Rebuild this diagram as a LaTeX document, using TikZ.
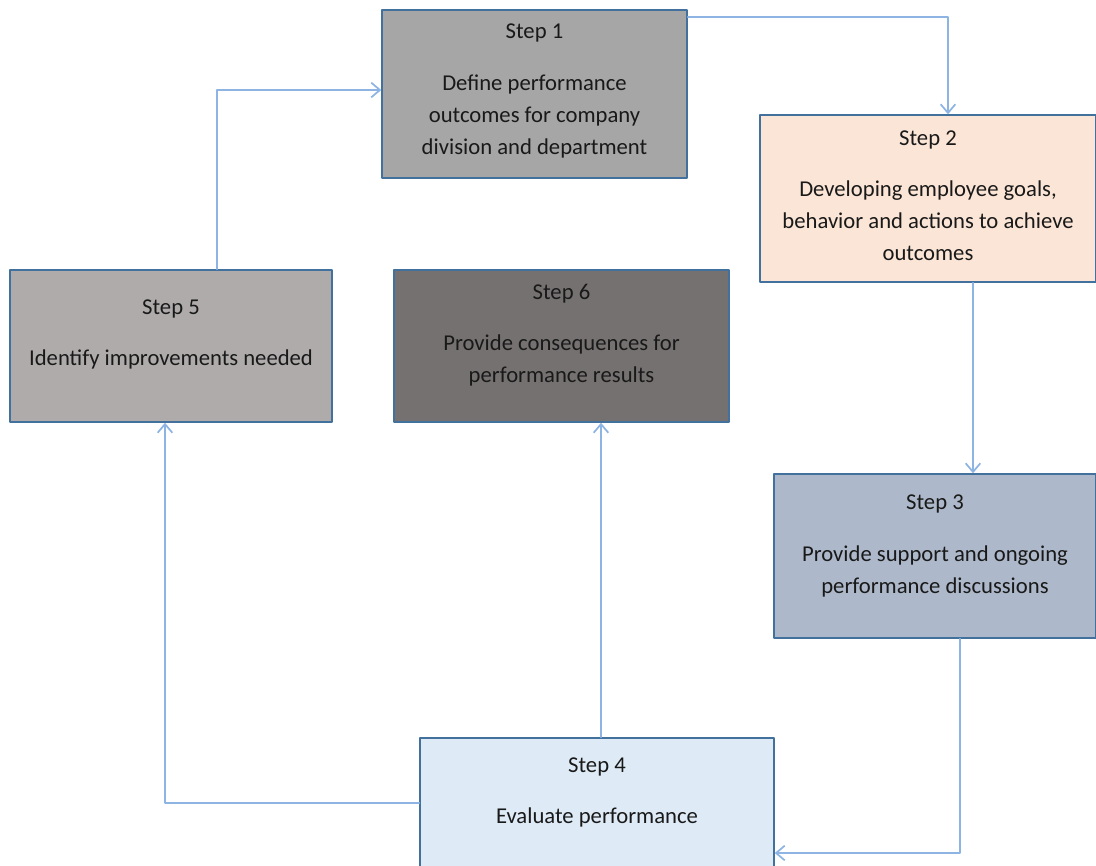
\documentclass[tikz,border=0pt]{standalone}
\usepackage{fontspec}
\setmainfont{Carlito}
\usetikzlibrary{arrows.meta}
\definecolor{boxline}{HTML}{41719C}
\definecolor{flowline}{HTML}{8EB4E3}
\definecolor{fillA}{HTML}{A6A6A6}
\definecolor{fillB}{HTML}{FBE5D6}
\definecolor{fillC}{HTML}{ADB9CA}
\definecolor{fillD}{HTML}{DEEBF7}
\definecolor{fillE}{HTML}{AFABAB}
\definecolor{fillF}{HTML}{767171}
\tikzset{
  stepbox/.style={draw=boxline,line width=1.1pt,inner sep=0pt},
  steptext/.style={align=center,text=black!90,font=\fontsize{17pt}{24pt}\selectfont},
  flow/.style={draw=flowline,line width=1.3pt,-{Straight Barb[length=6.5pt,width=11pt]}}
}

\begin{document}
\begin{tikzpicture}[line cap=round,line join=round,x=0.75pt,y=-0.75pt]
    \useasboundingbox (0,0) rectangle (1096,865);

    % Boxes
    \node[stepbox,fill=fillA,minimum width=228.75pt,minimum height=126pt] (s1) at (534.5,94) {};
    \node[stepbox,fill=fillB,minimum width=252pt,minimum height=125.25pt] (s2) at (928,198.5) {};
    \node[stepbox,fill=fillC,minimum width=241.5pt,minimum height=123pt] (s3) at (935,556) {};
    \node[stepbox,fill=fillD,minimum width=265.5pt,minimum height=105pt] (s4) at (597,808) {};
    \node[stepbox,fill=fillE,minimum width=241.5pt,minimum height=114pt] (s5) at (171,346) {};
    \node[stepbox,fill=fillF,minimum width=251.25pt,minimum height=114pt] (s6) at (561.5,346) {};

    % Texts
    \node[steptext] (t1) at (534.5,91) {Step 1\\[14.5pt]Define performance\\outcomes for company\\division and department};
    \node[steptext] (t2) at (928,196) {Step 2\\[14.5pt]Developing employee goals,\\behavior and actions to achieve\\outcomes};
    \node[steptext] (t3) at (935,546) {Step 3\\[14.5pt]Provide support and ongoing\\performance discussions};
    \node[steptext] (t4) at (597,792.5) {Step 4\\[14.5pt]Evaluate performance};
    \node[steptext] (t5) at (171,334.5) {Step 5\\[14.5pt]Identify improvements needed};
    \node[steptext] (t6) at (561.5,335) {Step 6\\[14.5pt]Provide consequences for\\performance results};

    % Connectors
    \draw[flow] ([yshift=-6pt]s1.north east) -| ([xshift=15pt]s2.north);
    \draw[flow] (973,0 |- s2.south) -- (973,0 |- s3.north);
    \draw[flow] (601,0 |- s4.north) -- (601,0 |- s6.south);
    \draw[flow] (960,0 |- s3.south) |- (s4.east |- 0,853);
    \draw[flow] (s4.west |- 0,803) -| (165,0 |- s5.south);
    \draw[flow] (217,0 |- s5.north) |- (s1.west |- 0,90);
\end{tikzpicture}
\end{document}
